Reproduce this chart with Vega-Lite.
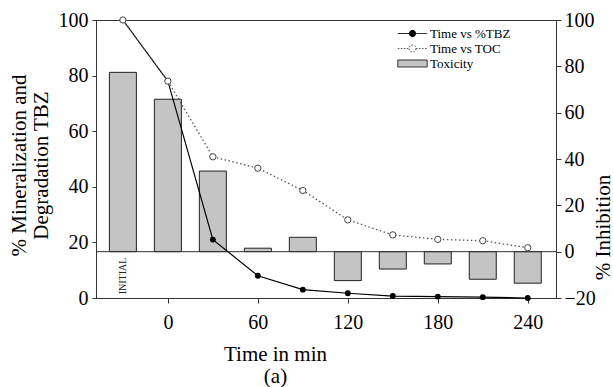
{
  "$schema": "https://vega.github.io/schema/vega-lite/v6.json",
  "width": 460,
  "height": 278,
  "autosize": {"type": "none"},
  "padding": {"left": 96, "top": 20, "right": 57, "bottom": 89},
  "background": "white",
  "config": {
    "view": {"stroke": "#333", "strokeWidth": 1},
    "font": "Liberation Serif",
    "axis": {
      "labelFont": "Liberation Serif",
      "titleFont": "Liberation Serif",
      "labelFontSize": 20,
      "titleFontSize": 21,
      "labelColor": "black",
      "titleColor": "black",
      "titleFontWeight": "normal",
      "domainColor": "#333",
      "tickColor": "#333",
      "grid": false,
      "tickSize": 5,
      "labelPadding": 3
    },
    "legend": {
      "orient": "none", "legendX": 309, "legendY": 6,
      "symbolSize": 196, "rowPadding": -7, "labelFontSize": 13, "labelFont": "Liberation Serif", "labelColor": "black", "labelOffset": 10, "padding": 0, "symbolStrokeWidth": 1, "symbolOpacity": 1
    }
  },
  "datasets": {
    "tbz": [
      {"t": -30, "v": 100, "series": "Time vs %TBZ"},
      {"t": 0, "v": 78, "series": "Time vs %TBZ"},
      {"t": 30, "v": 21, "series": "Time vs %TBZ"},
      {"t": 60, "v": 8, "series": "Time vs %TBZ"},
      {"t": 90, "v": 3, "series": "Time vs %TBZ"},
      {"t": 120, "v": 1.7, "series": "Time vs %TBZ"},
      {"t": 150, "v": 0.7, "series": "Time vs %TBZ"},
      {"t": 180, "v": 0.5, "series": "Time vs %TBZ"},
      {"t": 210, "v": 0.3, "series": "Time vs %TBZ"},
      {"t": 240, "v": 0, "series": "Time vs %TBZ"}
    ],
    "toc": [
      {"t": -30, "v": 100, "series": "Time vs TOC"},
      {"t": 0, "v": 78, "series": "Time vs TOC"},
      {"t": 30, "v": 50.8, "series": "Time vs TOC"},
      {"t": 60, "v": 46.7, "series": "Time vs TOC"},
      {"t": 90, "v": 38.7, "series": "Time vs TOC"},
      {"t": 120, "v": 28.1, "series": "Time vs TOC"},
      {"t": 150, "v": 22.7, "series": "Time vs TOC"},
      {"t": 180, "v": 21.1, "series": "Time vs TOC"},
      {"t": 210, "v": 20.6, "series": "Time vs TOC"},
      {"t": 240, "v": 18.1, "series": "Time vs TOC"}
    ],
    "tox": [
      {"t": -30, "v": 77.4, "series": "Toxicity"},
      {"t": 0, "v": 65.8, "series": "Toxicity"},
      {"t": 30, "v": 34.8, "series": "Toxicity"},
      {"t": 60, "v": 1.5, "series": "Toxicity"},
      {"t": 90, "v": 6.2, "series": "Toxicity"},
      {"t": 120, "v": -12.5, "series": "Toxicity"},
      {"t": 150, "v": -7.5, "series": "Toxicity"},
      {"t": 180, "v": -5.3, "series": "Toxicity"},
      {"t": 210, "v": -11.9, "series": "Toxicity"},
      {"t": 240, "v": -13.6, "series": "Toxicity"}
    ],
    "ann": [{"t": -30, "v": -10.5, "label": "INITIAL"}],
    "zero": [{"v": 0}]
  },
  "layer": [
    {
      "layer": [
        {
          "data": {"name": "tox"},
          "mark": {"type": "bar", "size": 27, "fill": "#c4c4c4", "stroke": "#222", "strokeWidth": 1},
          "encoding": {
            "x": {"field": "t", "type": "quantitative",
              "scale": {"domain": [-44.6, 255.5], "nice": false, "zero": false},
              "axis": {"values": [0, 60, 120, 180, 240], "title": ["Time in min", "(a)"], "titleX": 179, "titleY": 62, "titleBaseline": "alphabetic", "titleAlign": "center", "titleLineHeight": 22, "labelPadding": 9}},
            "y": {"field": "v", "type": "quantitative",
              "scale": {"domain": [-20, 100], "nice": false},
              "axis": {"orient": "right", "values": [-20, 0, 20, 40, 60, 80, 100], "title": "% Inhibition", "titleAngle": 270, "titleX": 47, "titleY": 207, "titleAlign": "center", "titleBaseline": "middle"}}
          }
        },
        {
          "data": {"name": "tox"},
          "mark": {"type": "point", "size": 0, "filled": true, "strokeWidth": 1},
          "encoding": {
            "x": {"field": "t", "type": "quantitative"},
            "y": {"field": "v", "type": "quantitative"},
            "shape": {"field": "series", "type": "nominal",
              "scale": {"domain": ["Time vs %TBZ", "Time vs TOC", "Toxicity"], "range": ["M-2.1,0L-0.45,0M0.45,0L2.1,0M0.45,0A0.45,0.45 0 1,1 -0.45,0A0.45,0.45 0 1,1 0.45,0Z", "M-2.1,0L-0.5,0M0.5,0L2.1,0M0.5,0A0.5,0.5 0 1,1 -0.5,0A0.5,0.5 0 1,1 0.5,0Z", "M-2.1,-0.5L2.1,-0.5L2.1,0.5L-2.1,0.5Z"]},
              "legend": {"title": null}},
            "fill": {"field": "series", "type": "nominal",
              "scale": {"domain": ["Time vs %TBZ", "Time vs TOC", "Toxicity"], "range": ["black", "white", "#c4c4c4"]},
              "legend": {"title": null}},
            "stroke": {"field": "series", "type": "nominal",
              "scale": {"domain": ["Time vs %TBZ", "Time vs TOC", "Toxicity"], "range": ["black", "#555", "#222"]},
              "legend": {"title": null}},
            "strokeDash": {"field": "series", "type": "nominal",
              "scale": {"domain": ["Time vs %TBZ", "Time vs TOC", "Toxicity"], "range": [[1, 0], [1.5, 1.5], [1, 0]]},
              "legend": {"title": null}}
          }
        },
        {
          "data": {"name": "zero"},
          "mark": {"type": "rule", "color": "#333", "strokeWidth": 1},
          "encoding": {"y": {"field": "v", "type": "quantitative"}}
        },
        {
          "data": {"name": "ann"},
          "mark": {"type": "text", "angle": 270, "fontSize": 10, "font": "Liberation Serif", "color": "#222", "align": "center", "baseline": "middle"},
          "encoding": {
            "x": {"field": "t", "type": "quantitative"},
            "y": {"field": "v", "type": "quantitative"},
            "text": {"field": "label"}
          }
        }
      ]
    },
    {
      "layer": [
        {
          "data": {"name": "tbz"},
          "mark": {"type": "line", "strokeWidth": 1.2, "color": "black"},
          "encoding": {
            "x": {"field": "t", "type": "quantitative",
              "axis": {"values": [0, 60, 120, 180, 240], "title": ["Time in min", "(a)"], "titleX": 179, "titleY": 62, "titleBaseline": "alphabetic", "titleAlign": "center", "titleLineHeight": 22, "labelPadding": 9}},
            "y": {"field": "v", "type": "quantitative",
              "scale": {"domain": [0, 100], "nice": false},
              "axis": {"orient": "left", "values": [0, 20, 40, 60, 80, 100], "tickSize": 4, "labelPadding": 4, "title": ["% Mineralization and", "Degradation TBZ"], "titleAngle": 270, "titleX": -77, "titleY": 145, "titleAlign": "center", "titleBaseline": "middle", "titleLineHeight": 22}}
          }
        },
        {
          "data": {"name": "tbz"},
          "mark": {"type": "point", "filled": true, "size": 35, "color": "black", "opacity": 1},
          "encoding": {
            "x": {"field": "t", "type": "quantitative"},
            "y": {"field": "v", "type": "quantitative"}
          }
        },
        {
          "data": {"name": "toc"},
          "mark": {"type": "line", "strokeWidth": 1.3, "strokeDash": [1.5, 2.5], "color": "#555"},
          "encoding": {
            "x": {"field": "t", "type": "quantitative"},
            "y": {"field": "v", "type": "quantitative"}
          }
        },
        {
          "data": {"name": "toc"},
          "mark": {"type": "point", "filled": false, "fill": "white", "size": 40, "stroke": "#444", "strokeWidth": 1, "opacity": 1},
          "encoding": {
            "x": {"field": "t", "type": "quantitative"},
            "y": {"field": "v", "type": "quantitative"}
          }
        }
      ]
    }
  ],
  "resolve": {"scale": {"y": "independent"}}
}
